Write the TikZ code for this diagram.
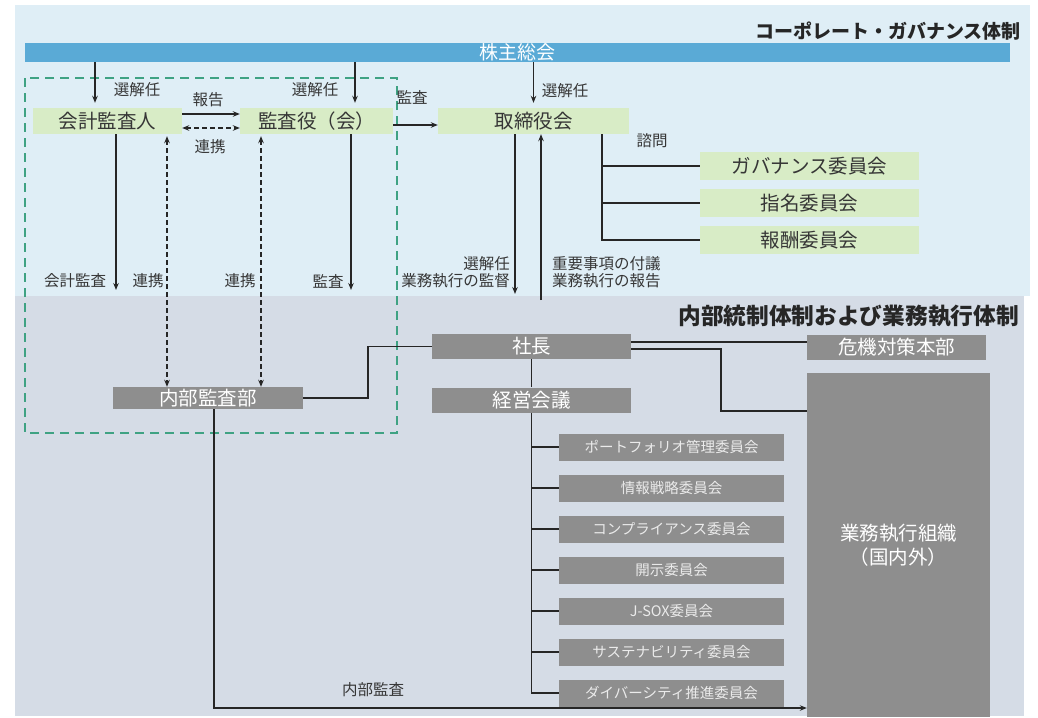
\documentclass[tikz,border=0pt]{standalone}
\usepackage{fontspec}
\setmainfont{Noto Sans CJK JP}
\usetikzlibrary{arrows.meta}
\definecolor{topbg}{HTML}{DFEEF6}
\definecolor{botbg}{HTML}{D5DCE6}
\definecolor{barblue}{HTML}{5AAAD6}
\definecolor{gfill}{HTML}{D8ECC6}
\definecolor{gyfill}{HTML}{8E8E8E}
\definecolor{txt}{HTML}{363636}
\definecolor{teal}{HTML}{3FA283}
\begin{document}
\begin{tikzpicture}[x=1pt,y=-1pt,
  gbox/.style={fill=gfill,text=txt,inner sep=0pt,font=\fontsize{19.5}{21}\selectfont},
  gybox/.style={fill=gyfill,text=white,inner sep=0pt,font=\fontsize{19.5}{24}\selectfont},
  cbox/.style={fill=gyfill,text=white!92!black,inner sep=0pt,minimum width=225pt,minimum height=27pt,font=\fontsize{14.5}{16}\selectfont},
  lbl/.style={text=txt,inner sep=0pt,font=\fontsize{15.5}{17}\selectfont},
  ttl/.style={text=black!85,inner sep=0pt,anchor=east,font=\bfseries},
  ln/.style={line width=1.7pt,black!85},
  arr/.style={ln,-{Stealth[length=7pt,width=5.5pt]}},
  dsh/.style={ln,dash pattern=on 5pt off 3pt,{Stealth[length=7pt,width=5.5pt]}-{Stealth[length=7pt,width=5.5pt]}}
]
\useasboundingbox (0,0) rectangle (1038,717);
% backgrounds
\fill[topbg] (15,5) rectangle (1030,296);
\fill[botbg] (15,296) rectangle (1024,716);
% titles
\node[ttl,font=\bfseries\fontsize{19}{21}\selectfont] (t1) at (1021,31) {コーポレート・ガバナンス体制};
\node[ttl,font=\bfseries\fontsize{22.7}{24}\selectfont] (t2) at (1019,316) {内部統制体制および業務執行体制};
% green dashed frame
\draw[teal,line width=1.4pt,dash pattern=on 9pt off 6pt] (25,78) rectangle (397,433);
% bar
\node[fill=barblue,text=white,inner sep=0pt,minimum width=985pt,minimum height=19pt,font=\fontsize{19}{20}\selectfont] (bar) at (517.5,52.5) {株主総会};
% governance boxes
\node[gbox,minimum width=149pt,minimum height=26pt] (kaikei) at (107.5,121) {会計監査人};
\node[gbox,minimum width=153pt,minimum height=26pt] (kansa) at (316.5,121) {監査役（会）};
\node[gbox,minimum width=191pt,minimum height=26pt] (tori) at (533.5,121) {取締役会};
\node[gbox,minimum width=219pt,minimum height=28pt] (gov) at (809.5,166) {ガバナンス委員会};
\node[gbox,minimum width=219pt,minimum height=28pt] (shimei) at (809.5,203) {指名委員会};
\node[gbox,minimum width=219pt,minimum height=28pt] (hoshu) at (809.5,240) {報酬委員会};
% execution boxes
\node[gybox,minimum width=199pt,minimum height=25pt] (shacho) at (531.5,346.5) {社長};
\node[gybox,minimum width=199pt,minimum height=25pt] (keiei) at (531.5,400) {経営会議};
\node[gybox,minimum width=190pt,minimum height=22pt] (naibu) at (208,398) {内部監査部};
\node[gybox,minimum width=179pt,minimum height=25pt] (kiki) at (896.5,347) {危機対策本部};
\node[gybox,minimum width=183pt,minimum height=344pt,align=center] (gyomu) at (898.5,545) {業務執行組織\\（国内外）};
\node[cbox] (c1) at (671.5,447) {ポートフォリオ管理委員会};
\node[cbox] (c2) at (671.5,488) {情報戦略委員会};
\node[cbox] (c3) at (671.5,529) {コンプライアンス委員会};
\node[cbox] (c4) at (671.5,570) {開示委員会};
\node[cbox] (c5) at (671.5,611) {J-SOX委員会};
\node[cbox] (c6) at (671.5,652) {サステナビリティ委員会};
\node[cbox] (c7) at (671.5,693) {ダイバーシティ推進委員会};
% helper coordinates
\coordinate (xa) at (95,0);
\coordinate (xb) at (116,0);
\coordinate (xc) at (167,0);
\coordinate (xd) at (261,0);
\coordinate (xe) at (351,0);
\coordinate (xf) at (355,0);
\coordinate (xg) at (515,0);
\coordinate (xh) at (541,0);
\coordinate (xi) at (602,0);
\coordinate (xj) at (368,0);
\coordinate (xm) at (214,0);
\coordinate (bnd) at (0,290);
\coordinate (bnd2) at (0,294);
\coordinate (bnd3) at (0,300);
\coordinate (kk) at (721,411);
\coordinate (yb) at (0,708);
% shareholders arrows
\draw[arr] (bar.south -| xa) -- ([yshift=5pt]kaikei.north -| xa);
\draw[arr] (bar.south -| xf) -- ([yshift=5pt]kansa.north -| xf);
\draw[arr] (bar.south -| tori.north) -- ([yshift=5pt]tori.north);
\node[lbl] (l1) at (137,90) {選解任};
\node[lbl] (l2) at (315,90) {選解任};
\node[lbl] (l3) at (565,91) {選解任};
% between auditor boxes
\draw[arr] ([yshift=7pt]kaikei.east) -- ([yshift=7pt]kansa.west);
\draw[dsh] ([yshift=-7pt]kaikei.east) -- ([yshift=-7pt]kansa.west);
\node[lbl] (l4) at (208,100) {報告};
\node[lbl] (l5) at (210,147) {連携};
\draw[arr] ([yshift=-4pt]kansa.east) -- ([yshift=-4pt]tori.west);
\node[lbl] (l6) at (412,97) {監査};
% verticals from governance
\draw[arr] (kaikei.south -| xb) -- (xb |- bnd);
\draw[arr] (kansa.south -| xe) -- (xe |- bnd);
\draw[dsh,shorten <=2pt] (kaikei.south -| xc) -- (naibu.north -| xc);
\draw[dsh,shorten <=2pt] (kansa.south -| xd) -- (naibu.north -| xd);
\node[lbl] (l7) at (75,281) {会計監査};
\node[lbl] (l8) at (148,281) {連携};
\node[lbl] (l9) at (240,281) {連携};
\node[lbl] (l10) at (328,281) {監査};
\draw[arr] (tori.south -| xg) -- (xg |- bnd2);
\draw[arr] (xh |- bnd3) -- (tori.south -| xh);
\node[lbl,anchor=east] (l11) at (510,264) {選解任};
\node[lbl,anchor=east] (l12) at (510,281) {業務執行の監督};
\node[lbl,anchor=west] (l13) at (552,264) {重要事項の付議};
\node[lbl,anchor=west] (l14) at (552,281) {業務執行の報告};
% advisory committees
\draw[ln] (tori.south -| xi) -- (xi |- hoshu.west) -- (hoshu.west);
\draw[ln] (xi |- gov.west) -- (gov.west);
\draw[ln] (xi |- shimei.west) -- (shimei.west);
\node[lbl] (l15) at (652,141) {諮問};
% execution structure
\draw[ln] (naibu.east) -- (naibu.east -| xj) |- (shacho.west);
\draw[ln] ([yshift=4.5pt]shacho.east) -- ([yshift=4.5pt]shacho.east -| kiki.west);
\draw[ln] ([yshift=-2.5pt]shacho.east) -| (kk) -- (kk -| gyomu.west);
\draw[ln] (shacho.south) -- (keiei.north);
\draw[ln] (keiei.south) -- (keiei.south |- c7.west) -- (c7.west);
\foreach \c in {c1,c2,c3,c4,c5,c6} \draw[ln] (keiei.south |- \c.west) -- (\c.west);
\draw[arr] (naibu.south -| xm) -- (xm |- yb) -- (gyomu.west |- yb);
\node[lbl] (l16) at (373,690) {内部監査};
\end{tikzpicture}
\end{document}
